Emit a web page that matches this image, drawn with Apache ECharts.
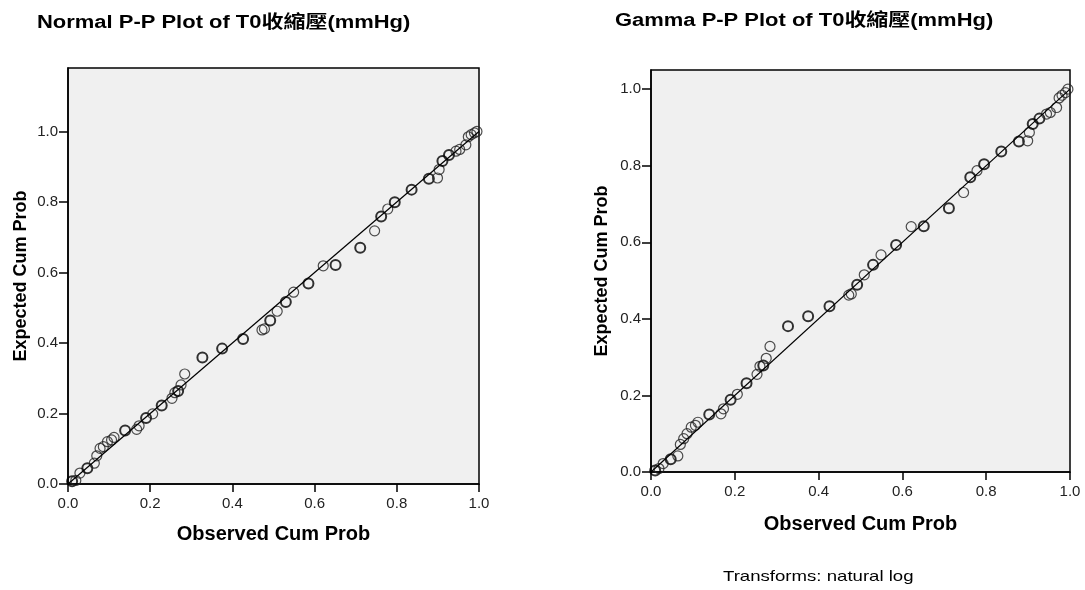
<!DOCTYPE html>
<html>
<head>
<meta charset="utf-8">
<script src="https://cdn.jsdelivr.net/npm/echarts@6/dist/echarts.min.js"></script>
<style>
  html, body { margin: 0; padding: 0; background: #fff; }
  #chart { width: 1085px; height: 590px; }
</style>
</head>
<body>
<div id="chart"></div>
<script>
// observed cumulative probability (shared by both plots)
const observed = [0.010, 0.019, 0.029, 0.047, 0.064, 0.070, 0.078, 0.086, 0.096, 0.106, 0.112,
  0.139, 0.167, 0.173, 0.190, 0.206, 0.228, 0.253, 0.260, 0.268, 0.275, 0.284, 0.327, 0.375,
  0.426, 0.472, 0.478, 0.492, 0.509, 0.530, 0.549, 0.585, 0.621, 0.651, 0.711, 0.746, 0.762,
  0.778, 0.795, 0.836, 0.878, 0.899, 0.903, 0.911, 0.927, 0.944, 0.953, 0.968, 0.974, 0.981,
  0.989, 0.995];
const expectedNormal = [0.008, 0.010, 0.031, 0.045, 0.059, 0.080, 0.101, 0.106, 0.120, 0.125, 0.132,
  0.152, 0.155, 0.165, 0.187, 0.199, 0.223, 0.243, 0.259, 0.264, 0.281, 0.312, 0.359, 0.384,
  0.411, 0.437, 0.440, 0.464, 0.490, 0.516, 0.544, 0.569, 0.619, 0.621, 0.670, 0.718, 0.759,
  0.780, 0.799, 0.835, 0.866, 0.868, 0.892, 0.916, 0.933, 0.944, 0.949, 0.962, 0.985, 0.991,
  0.996, 1.0];
const expectedGamma = [0.004, 0.009, 0.022, 0.033, 0.042, 0.072, 0.087, 0.100, 0.117, 0.122, 0.130,
  0.150, 0.152, 0.165, 0.189, 0.203, 0.232, 0.255, 0.276, 0.278, 0.297, 0.328, 0.381, 0.407,
  0.433, 0.462, 0.465, 0.489, 0.515, 0.541, 0.567, 0.593, 0.641, 0.642, 0.689, 0.730, 0.770,
  0.787, 0.804, 0.837, 0.863, 0.865, 0.887, 0.909, 0.923, 0.935, 0.939, 0.952, 0.977, 0.984,
  0.991, 1.0];
// number of cases sharing the point (ties drawn heavier)
const ties = [2, 1, 1, 2, 1, 1, 1, 1, 1, 1, 1,
  2, 1, 1, 2, 1, 2, 1, 1, 2, 1, 1, 2, 2,
  2, 1, 1, 2, 1, 2, 1, 2, 1, 2, 2, 1, 2,
  1, 2, 2, 2, 1, 1, 2, 2, 1, 1, 1, 1, 1,
  1, 1];
const tickValues = [0, 0.2, 0.4, 0.6, 0.8, 1.0];
const refLine = [[0, 0], [1, 1]];

const FONT = '"Liberation Sans", Arial, "Noto Sans CJK TC", sans-serif';

function points(expected) {
  return observed.map((x, i) => ({
    value: [x, expected[i]],
    itemStyle: { borderWidth: ties[i] > 1 ? 2 : 1.2, borderColor: ties[i] > 1 ? '#000' : '#222' }
  }));
}

function xAx(gridIndex, gap) {
  return {
    gridIndex, type: 'value', min: 0, max: 1,
    name: 'Observed Cum Prob', nameLocation: 'middle', nameGap: gap,
    nameTextStyle: { fontFamily: FONT, fontWeight: 'bold', fontSize: 20, color: '#000' },
    axisLine: { lineStyle: { color: '#000', width: 1.5 } },
    axisTick: { length: 8, lineStyle: { color: '#000', width: 1.5 }, customValues: tickValues },
    axisLabel: { fontFamily: FONT, fontSize: 15, color: '#222', margin: 12,
      customValues: tickValues, formatter: v => v.toFixed(1) },
    splitLine: { show: false }
  };
}

function yAx(gridIndex, max, gap) {
  return {
    gridIndex, type: 'value', min: 0, max,
    name: 'Expected Cum Prob', nameLocation: 'middle', nameGap: gap, nameRotate: 90,
    nameTextStyle: { fontFamily: FONT, fontWeight: 'bold', fontSize: 18, color: '#000' },
    axisLine: { lineStyle: { color: '#000', width: 1.5 } },
    axisTick: { length: 9, lineStyle: { color: '#000', width: 1.5 }, customValues: tickValues },
    axisLabel: { fontFamily: FONT, fontSize: 15, color: '#222', margin: 10,
      customValues: tickValues, formatter: v => v.toFixed(1) },
    splitLine: { show: false }
  };
}

function label(text, x, y, size, weight, scaleX) {
  return {
    type: 'text', x, y, scaleX, silent: true,
    style: { text, font: weight + ' ' + size + 'px ' + FONT, fill: '#000' }
  };
}

const chart = echarts.init(document.getElementById('chart'), null, { renderer: 'canvas' });

const option = {
  animation: false,
  backgroundColor: '#fff',
  graphic: [
    label('Normal P-P Plot of T0收縮壓(mmHg)', 37, 14, 18, 'bold', 1.22),
    label('Gamma P-P Plot of T0收縮壓(mmHg)', 615, 12, 18, 'bold', 1.22),
    label('Transforms: natural log', 723, 569, 15, 'normal', 1.24)
  ],
  grid: [
    { left: 68, top: 68, width: 411, height: 416, show: true,
      backgroundColor: '#f0f0f0', borderColor: '#000', borderWidth: 1.5 },
    { left: 651, top: 70, width: 419, height: 402, show: true,
      backgroundColor: '#f0f0f0', borderColor: '#000', borderWidth: 1.5 }
  ],
  xAxis: [xAx(0, 40), xAx(1, 42)],
  yAxis: [yAx(0, 1.18, 38), yAx(1, 1.05, 40)],
  series: [
    { type: 'line', xAxisIndex: 0, yAxisIndex: 0, data: refLine, symbol: 'none',
      lineStyle: { color: '#000', width: 1.2 }, silent: true },
    { type: 'scatter', xAxisIndex: 0, yAxisIndex: 0, data: points(expectedNormal),
      symbol: 'circle', symbolSize: 10, itemStyle: { color: 'rgba(0,0,0,0)' } },
    { type: 'line', xAxisIndex: 1, yAxisIndex: 1, data: refLine, symbol: 'none',
      lineStyle: { color: '#000', width: 1.2 }, silent: true },
    { type: 'scatter', xAxisIndex: 1, yAxisIndex: 1, data: points(expectedGamma),
      symbol: 'circle', symbolSize: 10, itemStyle: { color: 'rgba(0,0,0,0)' } }
  ]
};

chart.setOption(option);
window.addEventListener('resize', () => chart.resize());
</script>
</body>
</html>
